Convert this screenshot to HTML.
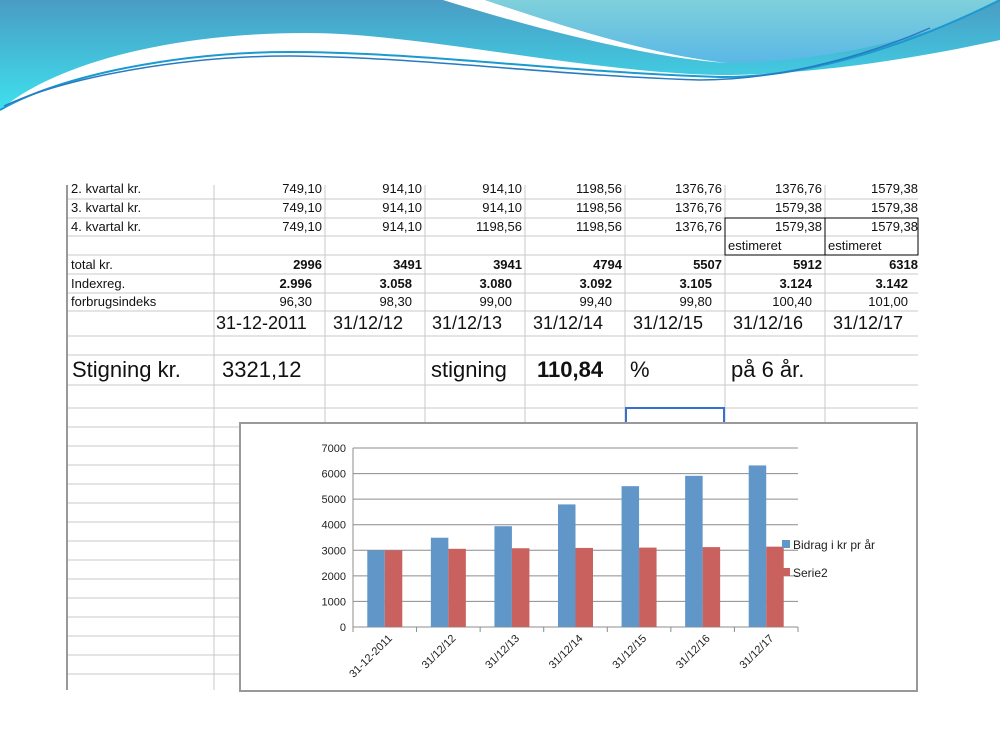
<!DOCTYPE html>
<html><head><meta charset="utf-8"><style>
body{margin:0;width:1000px;height:750px;background:#fff;position:relative;overflow:hidden;font-family:"Liberation Sans",sans-serif}
.t{position:absolute;font-size:13px;color:#111;white-space:nowrap}
.r{text-align:right}
</style></head><body>
<svg width="1000" height="130" style="position:absolute;left:0;top:0">
<defs><linearGradient id="g1" x1="0" y1="0" x2="0" y2="1"><stop offset="0" stop-color="#4a9cc4"/><stop offset="1" stop-color="#3ee0ee"/></linearGradient>
<linearGradient id="g2" x1="0" y1="0" x2="0" y2="1"><stop offset="0" stop-color="#7fd0da"/><stop offset="1" stop-color="#5ab8e6"/></linearGradient></defs>
<path d="M0,0 H1000 V40 C900,62 800,75 720,75 C580,72 420,33 306,33 C180,33 60,60 0,110 Z" fill="url(#g1)"/>
<path d="M443,0 C540,30 650,58 728,63 C650,55 560,25 485,0 Z" fill="#fff"/>
<path d="M485,0 C560,25 650,55 730,63 C850,60 950,30 1000,0 Z" fill="url(#g2)"/>
<path d="M0,110 C60,75 180,52 290,52 C420,52 560,72 720,77 C800,78 900,50 1000,0" fill="none" stroke="#1a9ad0" stroke-width="2"/>
<path d="M4,106 C70,75 190,56 290,56 C420,57 560,76 700,80 C790,80 880,50 930,28" fill="none" stroke="#2a7ac0" stroke-width="1.5"/>
</svg>
<svg width="1000" height="750" style="position:absolute;left:0;top:0">
<g stroke="#c8c8c8" stroke-width="1">
<line x1="67" y1="199" x2="918" y2="199"/><line x1="67" y1="218" x2="918" y2="218"/><line x1="67" y1="236" x2="918" y2="236"/>
<line x1="67" y1="255" x2="918" y2="255"/><line x1="67" y1="274" x2="918" y2="274"/><line x1="67" y1="293" x2="918" y2="293"/>
<line x1="67" y1="311" x2="918" y2="311"/><line x1="67" y1="336" x2="918" y2="336"/><line x1="67" y1="355" x2="918" y2="355"/>
<line x1="67" y1="385" x2="918" y2="385"/><line x1="67" y1="408" x2="918" y2="408"/>
<line x1="67" y1="427" x2="240" y2="427"/><line x1="67" y1="446" x2="240" y2="446"/><line x1="67" y1="465" x2="240" y2="465"/><line x1="67" y1="484" x2="240" y2="484"/><line x1="67" y1="503" x2="240" y2="503"/><line x1="67" y1="522" x2="240" y2="522"/><line x1="67" y1="541" x2="240" y2="541"/><line x1="67" y1="560" x2="240" y2="560"/><line x1="67" y1="579" x2="240" y2="579"/><line x1="67" y1="598" x2="240" y2="598"/><line x1="67" y1="617" x2="240" y2="617"/><line x1="67" y1="636" x2="240" y2="636"/><line x1="67" y1="655" x2="240" y2="655"/><line x1="67" y1="674" x2="240" y2="674"/>
<line x1="214" y1="185" x2="214" y2="690"/>
<line x1="325" y1="185" x2="325" y2="423"/><line x1="425" y1="185" x2="425" y2="423"/><line x1="525" y1="185" x2="525" y2="423"/><line x1="625" y1="185" x2="625" y2="423"/><line x1="725" y1="185" x2="725" y2="423"/><line x1="825" y1="185" x2="825" y2="423"/>
</g>
<line x1="67" y1="185" x2="67" y2="690" stroke="#999" stroke-width="2"/>
<rect x="725" y="218" width="193" height="37" fill="none" stroke="#000"/>
<line x1="825" y1="218" x2="825" y2="255" stroke="#000"/>
<rect x="626" y="408" width="98" height="16" fill="none" stroke="#3a6fd0" stroke-width="2"/>
</svg>
<div>
<div class="t" style="left:71px;top:181px">2. kvartal kr.</div>
<div class="t" style="left:71px;top:200px">3. kvartal kr.</div>
<div class="t" style="left:71px;top:219px">4. kvartal kr.</div>
<div class="t" style="left:71px;top:257px">total kr.</div>
<div class="t" style="left:71px;top:276px">Indexreg.</div>
<div class="t" style="left:71px;top:294px">forbrugsindeks</div>
<div id="cells"></div>
<div class="t" style="left:728px;top:238px">estimeret</div>
<div class="t" style="left:828px;top:238px">estimeret</div>
<div class="t" style="left:216px;top:313px;font-size:18px">31-12-2011</div>
<div class="t" style="left:333px;top:313px;font-size:18px">31/12/12</div>
<div class="t" style="left:432px;top:313px;font-size:18px">31/12/13</div>
<div class="t" style="left:533px;top:313px;font-size:18px">31/12/14</div>
<div class="t" style="left:633px;top:313px;font-size:18px">31/12/15</div>
<div class="t" style="left:733px;top:313px;font-size:18px">31/12/16</div>
<div class="t" style="left:833px;top:313px;font-size:18px">31/12/17</div>
<div class="t" style="left:72px;top:357px;font-size:22px">Stigning kr.</div>
<div class="t" style="left:222px;top:357px;font-size:22px">3321,12</div>
<div class="t" style="left:431px;top:357px;font-size:22px">stigning</div>
<div class="t" style="left:537px;top:357px;font-size:22px;font-weight:bold">110,84</div>
<div class="t" style="left:630px;top:357px;font-size:22px">%</div>
<div class="t" style="left:731px;top:357px;font-size:22px">på 6 år.</div>
</div>
<svg id="chart" width="1000" height="750" style="position:absolute;left:0;top:0"></svg>
<script>
const categories=["31-12-2011","31/12/12","31/12/13","31/12/14","31/12/15","31/12/16","31/12/17"];
const bidrag=[2996,3491,3941,4794,5507,5912,6318];
const serie2=[2996,3058,3080,3092,3105,3124,3142];
const yTicks=[0,1000,2000,3000,4000,5000,6000,7000];
const rowQ2=["749,10","914,10","914,10","1198,56","1376,76","1376,76","1579,38"];
const rowQ3=["749,10","914,10","914,10","1198,56","1376,76","1579,38","1579,38"];
const rowQ4=["749,10","914,10","1198,56","1198,56","1376,76","1579,38","1579,38"];
const rowTot=["2996","3491","3941","4794","5507","5912","6318"];
const rowIdx=["2.996","3.058","3.080","3.092","3.105","3.124","3.142"];
const rowFi=["96,30","98,30","99,00","99,40","99,80","100,40","101,00"];
const cells=document.getElementById('cells');
const colR=[322,422,522,622,722,822,918];
[[rowQ2,181],[rowQ3,200],[rowQ4,219],[rowTot,257],[rowIdx,276],[rowFi,294]].forEach(([row,top],ri)=>{
 row.forEach((v,i)=>{const d=document.createElement('div');d.className='t r';
 d.style.left=(colR[i]-95-(ri==4||ri==5?10:0))+'px';d.style.width='95px';d.style.top=top+'px';d.textContent=v;
 if(ri==3||ri==4)d.style.fontWeight='bold';
 
 
 cells.appendChild(d);});
});
const NS='http://www.w3.org/2000/svg';const svg=document.getElementById('chart');
function el(t,a,p){const e=document.createElementNS(NS,t);for(const k in a)e.setAttribute(k,a[k]);(p||svg).appendChild(e);return e;}
const box=el('rect',{x:240,y:423,width:677,height:268,fill:'#fff',stroke:'#999','stroke-width':2});


const x0=353,x1=798,y0=627,y1=448,ymax=7000;
const ys=v=>y0-(v/ymax)*(y0-y1);
const bw=(x1-x0)/categories.length;
yTicks.forEach(t=>{
 const l=el('line',{x1:x0,x2:x1,y1:ys(t),y2:ys(t),stroke:'#8c8c8c','stroke-width':1});
 
 
 const tx=el('text',{x:346,y:ys(t)+4,'text-anchor':'end','font-size':11,fill:'#222','font-family':'Liberation Sans, sans-serif'});tx.textContent=t;
 
 
});
el('line',{x1:x0,x2:x0,y1:y1,y2:y0,stroke:'#8c8c8c'});
categories.forEach((c,i)=>{
 const gx=x0+i*bw;
 el('line',{x1:gx,x2:gx,y1:y0,y2:y0+5,stroke:'#8c8c8c'});
 const b=el('rect',{x:gx+bw/2-17.5,y:ys(bidrag[i]),width:17.5,height:y0-ys(bidrag[i]),fill:'#6196c8'});
 
 
 const r=el('rect',{x:gx+bw/2,y:ys(serie2[i]),width:17.5,height:y0-ys(serie2[i]),fill:'#c9625f'});
 
 
 const cx=gx+bw/2+8,cy=y0+12;
 const t=el('text',{x:cx,y:cy,'text-anchor':'end','font-size':11,fill:'#222','font-family':'Liberation Sans, sans-serif',transform:`rotate(-45 ${cx} ${cy})`});t.textContent=c;
 
 
});
el('line',{x1:x1,x2:x1,y1:y0,y2:y0+5,stroke:'#8c8c8c'});
const lg=el('g',{});


el('rect',{x:782,y:540,width:8,height:8,fill:'#6196c8'},lg);
el('rect',{x:782,y:568,width:8,height:8,fill:'#c9625f'},lg);
const l1=el('text',{x:793,y:549,'font-size':12,fill:'#222','font-family':'Liberation Sans, sans-serif'},lg);l1.textContent='Bidrag i kr pr år';
const l2=el('text',{x:793,y:577,'font-size':12,fill:'#222','font-family':'Liberation Sans, sans-serif'},lg);l2.textContent='Serie2';
</script>
</body></html>
